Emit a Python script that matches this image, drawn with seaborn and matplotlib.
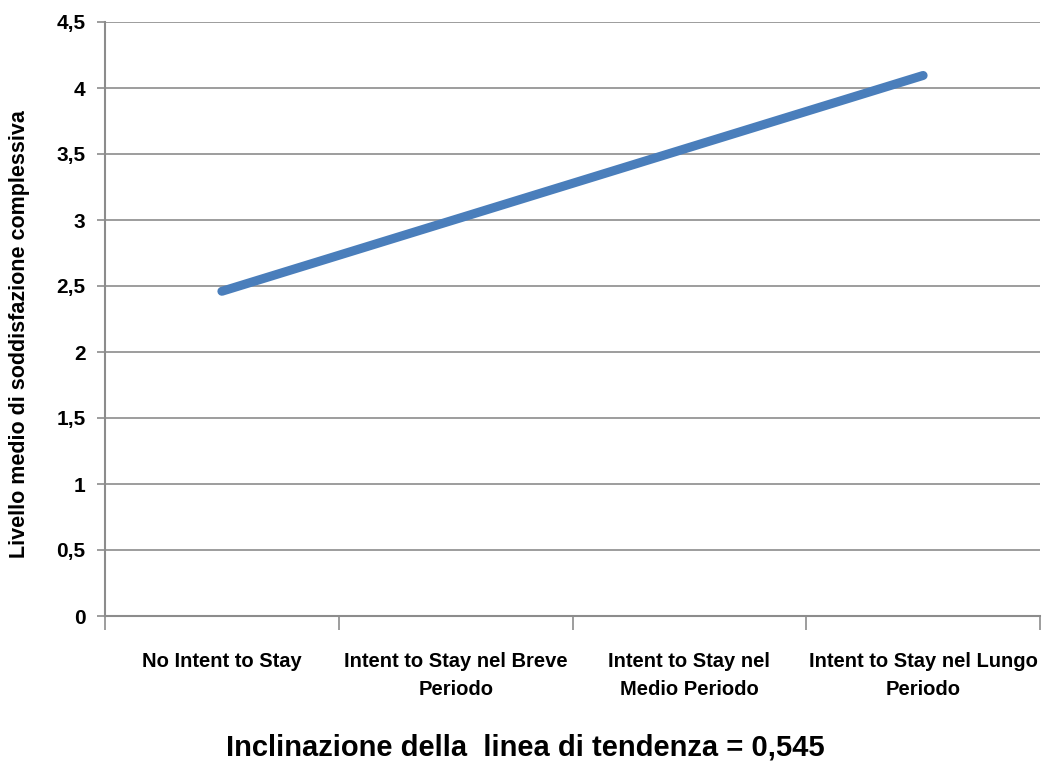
import matplotlib
matplotlib.use("Agg")
import matplotlib.pyplot as plt
import seaborn as sns
import pandas as pd
from matplotlib.ticker import FixedLocator, FuncFormatter

categories = ["No Intent to Stay", "Intent to Stay nel Breve\nPeriodo",
              "Intent to Stay nel\nMedio Periodo", "Intent to Stay nel Lungo\nPeriodo"]
values = [2.46, 3.005, 3.55, 4.095]
y_ticks = [0, 0.5, 1, 1.5, 2, 2.5, 3, 3.5, 4, 4.5]
y_label = "Livello medio di soddisfazione complessiva"
x_title = "Inclinazione della  linea di tendenza = 0,545"

sns.set_style("white")
plt.rcParams['font.family'] = ['Liberation Sans', 'DejaVu Sans']
plt.rcParams['font.weight'] = 'bold'
plt.rcParams['text.color'] = 'black'
plt.rcParams['axes.labelcolor'] = 'black'
plt.rcParams['xtick.labelcolor'] = 'black'
plt.rcParams['ytick.labelcolor'] = 'black'

df = pd.DataFrame({"pos": range(len(categories)), "value": values})

fig = plt.figure(figsize=(10.44, 7.66), dpi=100)
ax = fig.add_axes([105/1044, 150/766, 935/1044, 594/766])

sns.lineplot(data=df, x="pos", y="value", ax=ax, color="#4A7EBB", linewidth=6.5,
             solid_capstyle="round")

ax.set_xlim(-0.5, len(categories) - 0.5)
ax.set_ylim(0, 4.5)
ax.set_yticks(y_ticks)
ax.yaxis.set_major_formatter(FuncFormatter(lambda v, p: ("%g" % v).replace(".", ",")))
ax.grid(axis="y", color="#8c8c8c", linewidth=1.2)
ax.grid(axis="x", visible=False)
ax.set_axisbelow(True)

ax.xaxis.set_major_locator(FixedLocator([i - 0.5 for i in range(len(categories) + 1)]))
ax.xaxis.set_minor_locator(FixedLocator(list(range(len(categories)))))
ax.set_xticklabels([])
ax.set_xticklabels(categories, minor=True, fontsize=14.5, fontweight="bold", linespacing=1.6)
ax.tick_params(axis="x", which="major", length=10, width=1.2, color="#8c8c8c", direction="out", bottom=True)
ax.tick_params(axis="x", which="minor", length=0, pad=26)
ax.tick_params(axis="y", length=6, width=1.2, color="#8c8c8c", direction="out", left=True, labelsize=15, pad=8)
for lbl in ax.get_yticklabels():
    lbl.set_fontweight("bold")

for s in ["top", "right"]:
    ax.spines[s].set_visible(False)
for s in ["left", "bottom"]:
    ax.spines[s].set_color("#8c8c8c")
    ax.spines[s].set_linewidth(1.5)

ax.set_ylabel(y_label, fontsize=15.5, fontweight="bold")
ax.yaxis.set_label_coords(-0.08, 0.475)
ax.set_xlabel("")
fig.text(525/1044, 1 - 748/766, x_title, ha="center", va="center", fontsize=21, fontweight="bold")

fig.savefig("out.png", dpi=100)
